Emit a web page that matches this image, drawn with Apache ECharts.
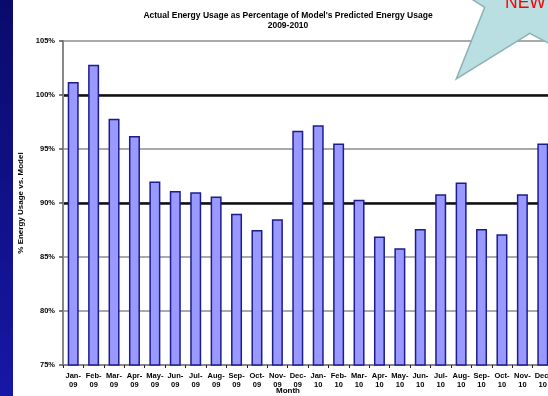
<!DOCTYPE html>
<html>
<head>
<meta charset="utf-8">
<script src="https://cdn.jsdelivr.net/npm/echarts@6/dist/echarts.min.js"></script>
<style>
  html, body { margin: 0; padding: 0; background: #ffffff; overflow: hidden; }
  /* the plot runs a little past the right edge of the page */
  #chart { width: 560px; height: 396px; }
</style>
</head>
<body>
<div id="chart"></div>
<script>
// Monthly ratio of actual to modelled energy use, 2009-2010
const months = ['Jan', 'Feb', 'Mar', 'Apr', 'May', 'Jun', 'Jul', 'Aug', 'Sep', 'Oct', 'Nov', 'Dec'];
const years = ['09', '10'];
const usagePct = [
  101.2, 102.8, 97.8, 96.2, 92.0, 91.1, 91.0, 90.6, 89.0, 87.5, 88.5, 96.7,
  97.2, 95.5, 90.3, 86.9, 85.8, 87.6, 90.8, 91.9, 87.6, 87.1, 90.8, 95.5
];
const yTicks = [75, 80, 85, 90, 95, 100, 105];

const categories = [];
years.forEach(y => months.forEach(m => categories.push(m + '-\n' + y)));

const FONT = 'Liberation Sans, Arial, sans-serif';
const chart = echarts.init(document.getElementById('chart'), null, { renderer: 'canvas' });

chart.setOption({
  backgroundColor: '#ffffff',
  animation: false,
  title: {
    text: "Actual Energy Usage as Percentage of Model's Predicted Energy Usage\n2009-2010",
    left: 283,
    top: 6,
    textAlign: 'center',
    textStyle: { fontFamily: FONT, fontSize: 8.5, fontWeight: 'bold', color: '#000', lineHeight: 10 }
  },
  grid: { left: 63, top: 41, width: 490, height: 324, containLabel: false },
  xAxis: {
    type: 'category',
    data: categories,
    axisLine: { lineStyle: { color: '#888', width: 2 } },
    axisTick: { show: true, alignWithLabel: false, length: 3, lineStyle: { color: '#222', width: 1 } },
    axisLabel: {
      interval: 0, margin: 6, color: '#000',
      fontFamily: FONT, fontSize: 7.5, fontWeight: 'bold', lineHeight: 9
    }
  },
  yAxis: [
    {
      type: 'value', min: yTicks[0], max: yTicks[yTicks.length - 1], interval: 5,
      name: '% Energy Usage vs. Model',
      nameLocation: 'middle', nameRotate: 90, nameGap: 36,
      nameTextStyle: { fontFamily: FONT, fontSize: 8, fontWeight: 'bold', color: '#000' },
      axisLine: { show: true, lineStyle: { color: '#888', width: 2 } },
      axisTick: { show: true, inside: false, length: 4, lineStyle: { color: '#555', width: 1.5 } },
      axisLabel: {
        formatter: '{value}%', margin: 8, color: '#000',
        fontFamily: FONT, fontSize: 7.5, fontWeight: 'bold'
      },
      splitLine: { show: true, lineStyle: { color: '#8c8c8c', width: 1.5 } }
    },
    {
      // heavier reference lines at 90% and 100%
      type: 'value', min: yTicks[0], max: yTicks[yTicks.length - 1], interval: 5,
      position: 'left',
      axisLine: { show: false }, axisTick: { show: false }, axisLabel: { show: false },
      splitLine: {
        show: true,
        lineStyle: {
          width: 2.5,
          color: ['rgba(0,0,0,0)', 'rgba(0,0,0,0)', 'rgba(0,0,0,0)', '#111',
                  'rgba(0,0,0,0)', '#111', 'rgba(0,0,0,0)']
        }
      }
    }
  ],
  series: [{
    type: 'bar',
    data: usagePct,
    yAxisIndex: 0,
    barWidth: 11,
    itemStyle: { color: '#9999ff', borderColor: '#1c1c8e', borderWidth: 1.5 }
  }],
  graphic: [
    {
      // navy side band
      type: 'rect', left: 0, top: 0, z: 0,
      shape: { width: 13, height: 396 },
      style: {
        fill: {
          type: 'linear', x: 0, y: 0, x2: 0, y2: 1,
          colorStops: [{ offset: 0, color: '#0a0a6c' }, { offset: 1, color: '#1717a6' }]
        }
      }
    },
    {
      type: 'text', x: 288, y: 391, z: 10,
      style: { text: 'Month', font: 'bold 8px ' + FONT, fill: '#000', align: 'center', verticalAlign: 'middle' }
    },
    {
      // "NEW" burst callout
      type: 'polygon', z: 100,
      shape: { points: [[470, -2], [484.7, 7.3], [456.3, 79], [529.7, 33.3], [560, 49], [560, -2]] },
      style: { fill: '#b9dfe2', stroke: '#8fb1b3', lineWidth: 1.5 }
    },
    {
      type: 'text', x: 505, y: 12.5, z: 101,
      style: { text: 'NEW', font: '17.5px ' + FONT, fill: '#ff0000', align: 'left', verticalAlign: 'bottom' }
    }
  ]
});
</script>
</body>
</html>
